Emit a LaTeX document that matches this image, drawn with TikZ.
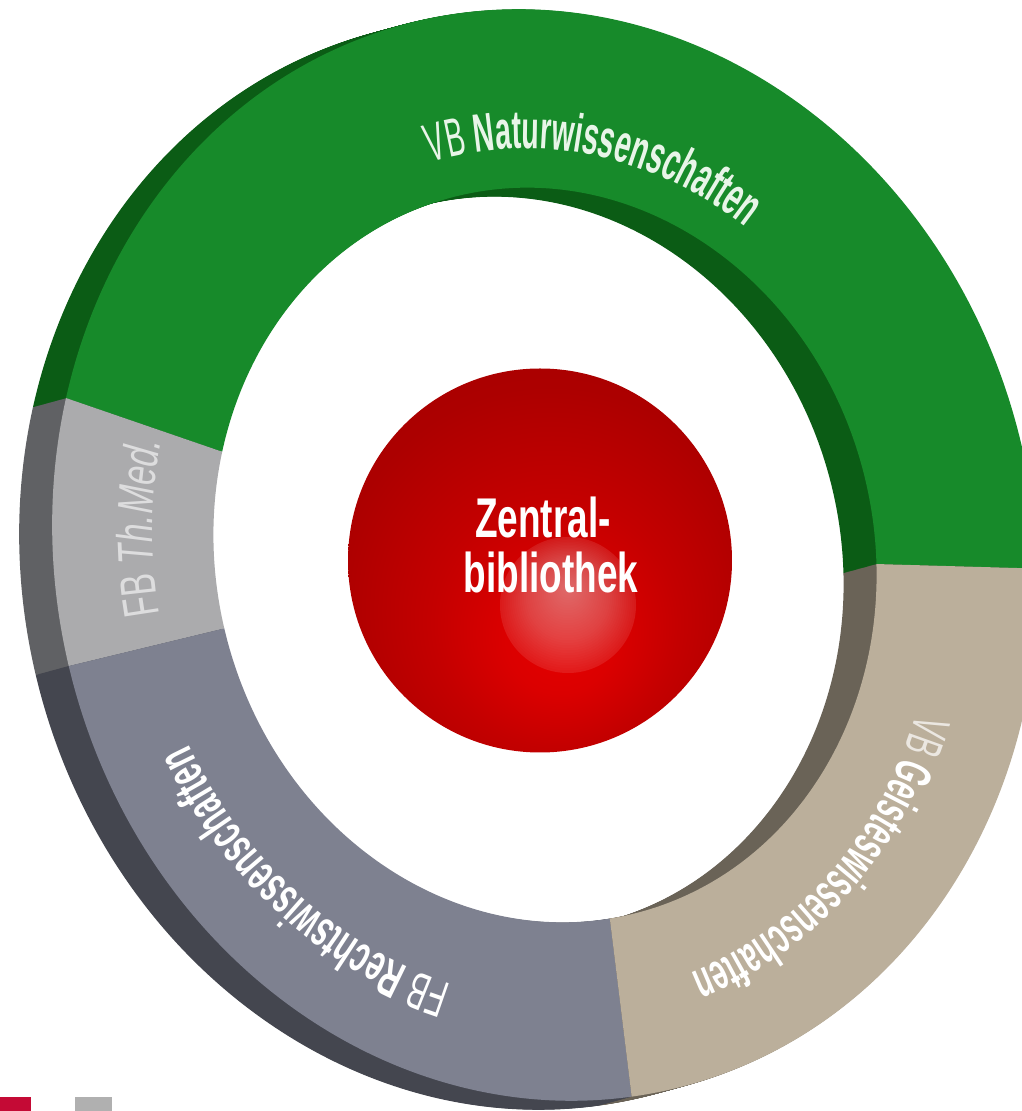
\documentclass[tikz,border=0pt]{standalone}
\usepackage{fontspec}
\usetikzlibrary{decorations.text}
\setmainfont{Liberation Sans}
\newfontfamily\fontnat[FakeStretch=0.53]{Liberation Sans}
\newfontfamily\fontgei[FakeStretch=0.54]{Liberation Sans}
\newfontfamily\fontrec[FakeStretch=0.57]{Liberation Sans}
\newfontfamily\fontmed[FakeStretch=0.67]{Liberation Sans}
\newfontfamily\fontzen[FakeStretch=0.66]{Liberation Sans}
\definecolor{gr}{HTML}{178A2A}
\definecolor{grd}{HTML}{0B5C15}
\definecolor{gy}{HTML}{ABABAD}
\definecolor{gyd}{HTML}{606164}
\definecolor{sl}{HTML}{7E8190}
\definecolor{sld}{HTML}{44464F}
\definecolor{ta}{HTML}{BBAF9B}
\definecolor{tad}{HTML}{6A6357}
\definecolor{ltxt}{HTML}{E8F5E8}
\definecolor{markred}{HTML}{C40A35}
\definecolor{markgrey}{HTML}{B0B0B0}
\definecolor{ballA}{HTML}{E30000}
\definecolor{ballB}{HTML}{DB0000}
\definecolor{ballC}{HTML}{C40000}
\definecolor{ballD}{HTML}{AC0000}
\definecolor{ballE}{HTML}{9E0000}
\pgfdeclareradialshading{redball}{\pgfpoint{3bp}{-12bp}}{%
 color(0bp)=(ballA);
 color(7bp)=(ballB);
 color(16bp)=(ballC);
 color(28bp)=(ballD);
 color(50bp)=(ballE)}
\newcommand{\ringshape}{(0,0) circle[x radius=489,y radius=549] (0,0) circle[x radius=329,y radius=369.5]}
\newcommand{\greenwedge}{(545,556)--(220,660)--(-94,768)--(-94,1300)--(1300,1300)--(1300,535)--(875,547)--cycle}
\newcommand{\greywedge}{(545,556)--(220,660)--(-94,768)--(-84,408)--(222,482)--cycle}
\newcommand{\slatewedge}{(545,556)--(222,482)--(-84,408)--(-84,-200)--(658,-200)--(610,191)--cycle}
\newcommand{\tanwedge}{(545,556)--(610,191)--(658,-200)--(1300,-200)--(1300,535)--(875,547)--cycle}
\newcommand{\ringpiece}[2]{\begin{scope}\clip #1;\fill[#2,even odd rule,shift={(545,556)},rotate=14] \ringshape;\end{scope}}
\newcommand{\ringtext}[4]{\path[shift={(545,556)},rotate=14,decorate,decoration={text along path,text={#4}}]
 ({#1*489*cos(#2)},{#1*549*sin(#2)}) arc[start angle=#2,end angle=#3,x radius=#1*489,y radius=#1*549];}
\begin{document}
\begin{tikzpicture}[x=1pt,y=1pt,
  zentext/.style={text=white,font=\fontzen\fontsize{56}{56}\selectfont\bfseries,inner sep=0pt,anchor=base}]
\useasboundingbox (0,0) rectangle (1022,1111);
\fill[white] (0,0) rectangle (1022,1111);
\clip (0,0) rectangle (1022,1111);
% extruded side walls, back to front
\foreach \t in {33,32,...,1}{
  \begin{scope}[shift={(-\t,-\t*9/33)}]
    \ringpiece{\greenwedge}{grd}
    \ringpiece{\greywedge}{gyd}
    \ringpiece{\slatewedge}{sld}
    \ringpiece{\tanwedge}{tad}
  \end{scope}
}
% front faces
\ringpiece{\greenwedge}{gr}
\ringpiece{\greywedge}{gy}
\ringpiece{\slatewedge}{sl}
\ringpiece{\tanwedge}{ta}
% sphere
\node[circle,minimum size=384pt,inner sep=0pt,shading=redball] (ball) at (540,550.5) {};
\fill[white,opacity=.10] (568,506) circle[radius=68];
\foreach \r in {66,64,...,2}{
  \fill[white,opacity=.016] (568,{506+(68-\r)*0.25}) circle[radius=\r];
}
\node[zentext] (zen1) at (543,573) {Zentral-};
\node[zentext] (zen2) at (551,518) {bibliothek};
% ring labels
\ringtext{0.745}{92.5}{20}{|\color{ltxt}\fontnat\fontsize{54}{54}\selectfont|VB |\color{ltxt}\fontnat\fontsize{54}{54}\selectfont\bfseries|Naturwissenschaften}
\begin{scope}[shift={(-5,-6)}]
\ringtext{0.80}{-33}{-120}{|\color{ta!30!white}\fontgei\fontsize{52}{52}\selectfont|VB |\color{white}\fontgei\fontsize{52}{52}\selectfont\bfseries|Geisteswissenschaften}
\end{scope}
\ringtext{0.82}{241}{170}{|\color{white}\fontrec\fontsize{52}{52}\selectfont|FB |\color{white}\fontrec\fontsize{52}{52}\selectfont\bfseries|Rechtswissenschaften}
\ringtext{0.797}{175.4}{125}{|\color{gy!40!white}\fontmed\fontsize{50}{50}\selectfont|FB |\color{gy!40!white}\fontmed\fontsize{50}{50}\selectfont\itshape|Th.Med.}
% corner marks
\fill[markred] (0,0) rectangle (31,14);
\fill[markgrey] (75,0) rectangle (112,14);
\end{tikzpicture}
\end{document}
